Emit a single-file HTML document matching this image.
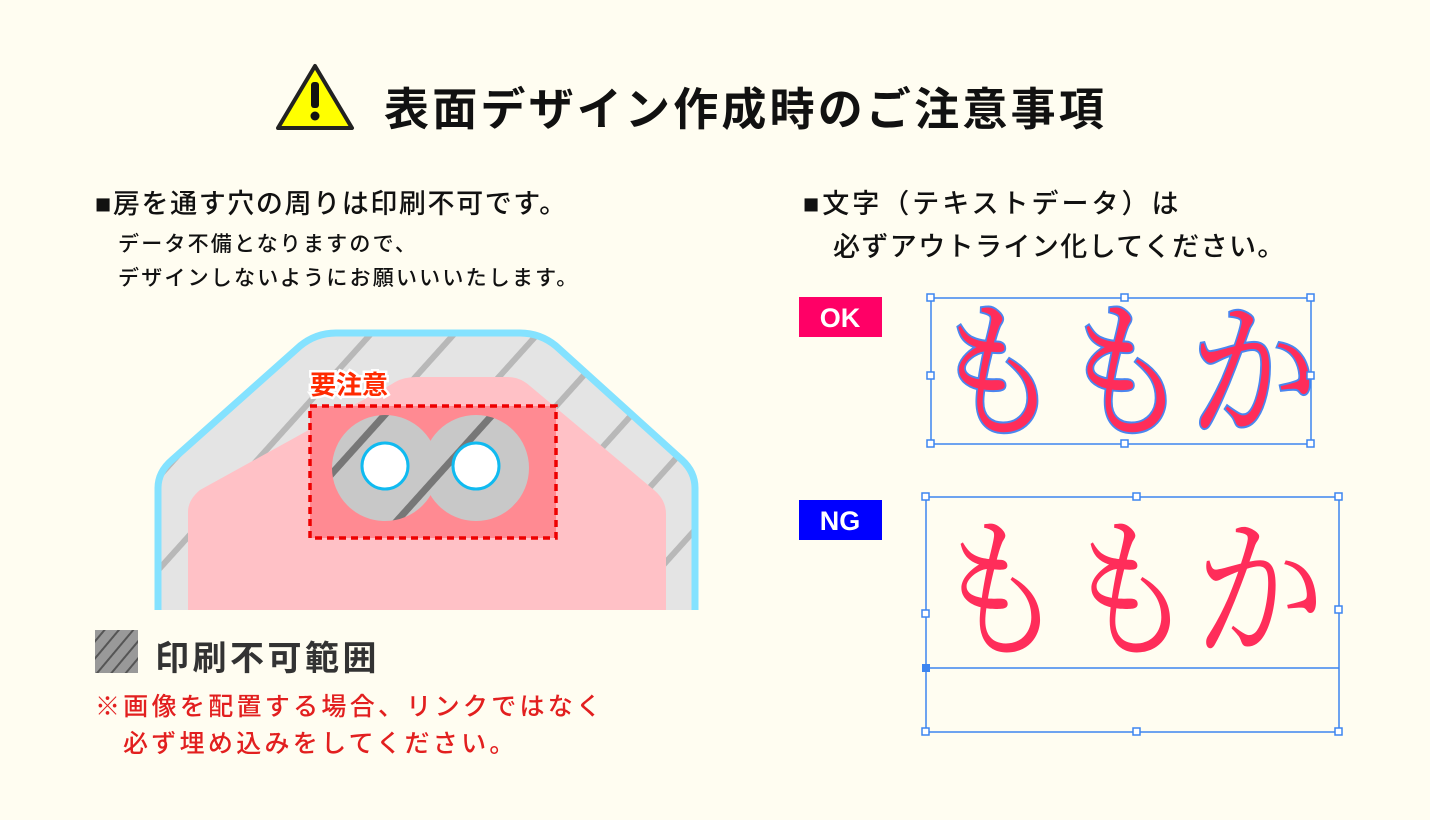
<!DOCTYPE html>
<html><head><meta charset="utf-8"><style>
html,body{margin:0;padding:0;background:#fffdf1;}
body{width:1430px;height:820px;overflow:hidden;position:relative;font-family:"Liberation Sans","Noto Sans CJK JP",sans-serif;color:#111;}
.t{position:absolute;white-space:nowrap;font-weight:500;}
</style></head><body>
<svg width="1430" height="820" style="position:absolute;left:0;top:0" xmlns="http://www.w3.org/2000/svg">
<defs>
<pattern id="st" patternUnits="userSpaceOnUse" width="62" height="62" patternTransform="rotate(42)">
<rect width="62" height="62" fill="#e4e4e4"/><rect x="0" y="0" width="6" height="62" fill="#b8b8b8"/>
</pattern>
<pattern id="st2" patternUnits="userSpaceOnUse" width="80" height="80" patternTransform="rotate(42)">
<rect width="80" height="80" fill="#c8c8c8"/><rect x="0" y="0" width="7" height="80" fill="#777"/>
</pattern>
<pattern id="st3" patternUnits="userSpaceOnUse" width="11" height="11" patternTransform="rotate(40)">
<rect width="11" height="11" fill="#999"/><rect x="0" y="0" width="2" height="11" fill="#555"/>
</pattern>
<clipPath id="cl"><rect x="0" y="0" width="1430" height="610"/></clipPath>
</defs>
<path d="M315 66 L352 128 L278 128 Z" fill="#ffff00" stroke="#222" stroke-width="4" stroke-linejoin="round"/>
<rect x="311" y="82" width="8" height="26" rx="3" fill="#111"/>
<circle cx="315" cy="116" r="4.5" fill="#111"/>
<g clip-path="url(#cl)">
<path d="M158 640 L158 488 Q158 472 172 460 L300 346 Q316 333 336 333 L520 333 Q540 333 556 346 L682 460 Q695 472 695 488 L695 640 Z" fill="url(#st)" stroke="#84e2ff" stroke-width="7"/>
<path d="M188 640 L188 512 Q188 500 200 490 L392 384 Q402 377 416 377 L508 377 Q520 377 530 386 L654 490 Q666 500 666 514 L666 640 Z" fill="#ffc1c6"/>
</g>
<rect x="310" y="406" width="246" height="132" fill="#ff8a92" stroke="#ee0000" stroke-width="3.5" stroke-dasharray="7 5"/>
<circle cx="385" cy="468" r="53" fill="url(#st2)"/>
<circle cx="476" cy="468" r="53" fill="url(#st2)"/>
<circle cx="385" cy="466" r="23" fill="#fff" stroke="#10baf0" stroke-width="3"/>
<circle cx="476" cy="466" r="23" fill="#fff" stroke="#10baf0" stroke-width="3"/>
<text x="310" y="394" font-size="26" font-weight="bold" fill="#ff2a00" stroke="#fff" stroke-width="5" paint-order="stroke" font-family="Liberation Sans,Noto Sans CJK JP,sans-serif">要注意</text>
<rect x="95" y="630" width="43" height="43" fill="url(#st3)"/>
<rect x="799" y="297" width="83" height="40" fill="#ff0066"/>
<text x="840" y="327" text-anchor="middle" font-size="27" font-weight="bold" fill="#fff" font-family="Liberation Sans,sans-serif">OK</text>
<rect x="799" y="500" width="83" height="40" fill="#0000ff"/>
<text x="840" y="530" text-anchor="middle" font-size="27" font-weight="bold" fill="#fff" font-family="Liberation Sans,sans-serif">NG</text>
<text x="933" y="425" font-size="150" textLength="385" lengthAdjust="spacingAndGlyphs" fill="#ff2d5a" stroke="#4a86f0" stroke-width="4" paint-order="stroke" font-family="Noto Serif CJK JP,serif">ももか</text>
<rect x="931" y="298" width="380" height="146" fill="none" stroke="#3d85f0" stroke-width="1.5"/>
<g fill="#fff" stroke="#3d85f0" stroke-width="1.5">
<rect x="927" y="294" width="7" height="7"/><rect x="1121" y="294" width="7" height="7"/><rect x="1307" y="294" width="7" height="7"/>
<rect x="927" y="372" width="7" height="7"/><rect x="1307" y="372" width="7" height="7"/>
<rect x="927" y="440" width="7" height="7"/><rect x="1121" y="440" width="7" height="7"/><rect x="1307" y="440" width="7" height="7"/>
</g>
<text x="935" y="645" font-size="155" textLength="390" lengthAdjust="spacingAndGlyphs" fill="#ff2d5a" font-family="Noto Serif CJK JP,serif">ももか</text>
<g fill="none" stroke="#3d85f0" stroke-width="1.5">
<rect x="926" y="497" width="413" height="235"/>
<line x1="926" y1="668" x2="1339" y2="668"/>
</g>
<g fill="#fff" stroke="#3d85f0" stroke-width="1.5">
<rect x="922" y="493" width="7" height="7"/><rect x="1133" y="493" width="7" height="7"/><rect x="1335" y="493" width="7" height="7"/>
<rect x="922" y="610" width="7" height="7"/><rect x="1335" y="606" width="7" height="7"/>
<rect x="922" y="728" width="7" height="7"/><rect x="1133" y="728" width="7" height="7"/><rect x="1335" y="728" width="7" height="7"/>
</g>
<rect x="922" y="664" width="8" height="8" fill="#3d85f0"/>
</svg>
<div class="t" style="left:384px;top:73px;font-size:45px;letter-spacing:3.2px;font-weight:bold;">表面デザイン作成時のご注意事項</div>
<div class="t" style="left:95px;top:182px;font-size:27px;letter-spacing:1.6px;">■房を通す穴の周りは印刷不可です。</div>
<div class="t" style="left:118px;top:228px;font-size:21px;letter-spacing:2.2px;line-height:34px;">データ不備となりますので、<br>デザインしないようにお願いいいたします。</div>
<div class="t" style="left:155px;top:631px;font-size:34px;letter-spacing:3.5px;font-weight:bold;color:#333;">印刷不可範囲</div>
<div class="t" style="left:95px;top:689px;font-size:25px;letter-spacing:3.3px;line-height:37px;color:#e21f1f;">※画像を配置する場合、リンクではなく</div>
<div class="t" style="left:123px;top:726px;font-size:25px;letter-spacing:3.3px;line-height:37px;color:#e21f1f;">必ず埋め込みをしてください。</div>
<div class="t" style="left:803px;top:182px;font-size:27px;letter-spacing:3px;">■文字（テキストデータ）は</div>
<div class="t" style="left:833px;top:225px;font-size:27px;letter-spacing:1.4px;">必ずアウトライン化してください。</div>
</body></html>
